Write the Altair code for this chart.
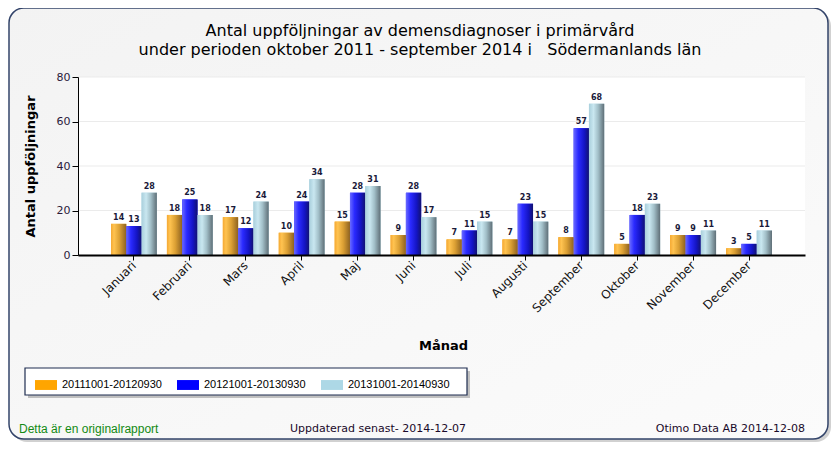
import altair as alt
import pandas as pd

months = ["Januari", "Februari", "Mars", "April", "Maj", "Juni", "Juli",
          "Augusti", "September", "Oktober", "November", "December"]
series_names = ["20111001-20120930", "20121001-20130930", "20131001-20140930"]
s1 = [14, 18, 17, 10, 15, 9, 7, 7, 8, 5, 9, 3]
s2 = [13, 25, 12, 24, 28, 28, 11, 23, 57, 18, 9, 5]
s3 = [28, 18, 24, 34, 31, 17, 15, 15, 68, 23, 11, 11]
y_ticks = [0, 20, 40, 60, 80]

title1 = "Antal uppföljningar av demensdiagnoser i primärvård"
title2 = "under perioden oktober 2011 - september 2014 i\u00a0\u00a0\u00a0Södermanlands län"
footer_left = "Detta är en originalrapport"
footer_mid = "Uppdaterad senast- 2014-12-07"
footer_right = "Otimo Data AB 2014-12-08"

rows = []
for name, vals in zip(series_names, [s1, s2, s3]):
    for m, v in zip(months, vals):
        rows.append({"month": m, "series": name, "value": v})
df = pd.DataFrame(rows)

W, H = 727, 178
solid = ["#FFA500", "#0000FF", "#ADD8E6"]

def grad(stops):
    return alt.LinearGradient(
        gradient="linear", x1=0, y1=0, x2=1, y2=0,
        stops=[alt.GradientStop(color=c, offset=o) for o, c in stops])

gradients = [
    grad([(0, "#f4a935"), (0.2, "#ffc350"), (0.55, "#dca034"), (1, "#8e6220")]),
    grad([(0, "#6a6aff"), (0.3, "#2a2aff"), (0.7, "#1414c4"), (1, "#121270")]),
    grad([(0, "#a9cfdc"), (0.3, "#c9e7f0"), (0.6, "#a2bfc8"), (1, "#5f6f77")]),
]

one = alt.Data(values=[{"k": 1}])

x_enc = alt.X("month:N", sort=months,
              scale=alt.Scale(domain=months, paddingInner=0.18, paddingOuter=0.59),
              axis=alt.Axis(title="Månad", labelAngle=315, labelAlign="right",
                            labelBaseline="middle", labelFontSize=12,
                            labelFont="DejaVu Sans", labelColor="#111",
                            labelPadding=3, tickSize=5, tickColor="#000",
                            domainColor="#000", domainWidth=2, grid=False,
                            titleFont="DejaVu Sans", titleFontSize=13,
                            titleFontWeight="bold", titleColor="#000",
                            titleX=365, titleY=90, titleBaseline="middle",
                            zindex=1))
xo_enc = alt.XOffset("series:N", scale=alt.Scale(domain=series_names, paddingInner=0, paddingOuter=0))
y_enc = alt.Y("value:Q",
              scale=alt.Scale(domain=[0, 80], nice=False),
              axis=alt.Axis(title="Antal uppföljningar", values=y_ticks,
                            labelFontSize=11, labelFont="DejaVu Sans",
                            labelColor="#2a1a3a", tickSize=6, tickColor="#000",
                            domainColor="#000", grid=False,
                            titleFont="DejaVu Sans", titleFontSize=13,
                            titleFontWeight="bold", titleColor="#000",
                            titleAngle=270, titleX=-41, titleY=89,
                            titleBaseline="bottom", titleAlign="center",
                            zindex=1))

# panel background + shadow
shadow = alt.Chart(one).mark_rect(cornerRadius=15, color="#9a9a9a", opacity=0.45).encode(
    x=alt.value(-66), x2=alt.value(753), y=alt.value(-66), y2=alt.value(365))
panel = alt.Chart(one).mark_rect(
    cornerRadius=15, stroke="#33446a", strokeWidth=1.5,
    fill=alt.LinearGradient(gradient="linear", x1=0, y1=0, x2=1, y2=1,
                            stops=[alt.GradientStop(color="#f3f3f3", offset=0),
                                   alt.GradientStop(color="#fbfbfb", offset=1)])
).encode(x=alt.value(-69), x2=alt.value(750), y=alt.value(-69), y2=alt.value(362))
plotbg = alt.Chart(one).mark_rect(color="#ffffff").encode(
    x=alt.value(0), x2=alt.value(W), y=alt.value(0), y2=alt.value(H))

grid = alt.Chart(pd.DataFrame({"t": y_ticks[1:]})).mark_rule(color="#ebebeb", strokeWidth=1).encode(
    y=alt.Y("t:Q", scale=alt.Scale(domain=[0, 80], nice=False)))

base_bars = alt.Chart(df).mark_bar().encode(
    x=x_enc, xOffset=xo_enc, y=y_enc,
    color=alt.Color("series:N", scale=alt.Scale(domain=series_names, range=solid),
                    legend=alt.Legend(title=None, orient="none", direction="horizontal",
                                      legendX=-43, legendY=297, columns=3,
                                      symbolType="M-1,-0.45H1V0.45H-1Z", symbolSize=484,
                                      symbolStrokeWidth=0, symbolOpacity=1,
                                      labelFont="Liberation Sans", labelFontSize=11,
                                      labelColor="#000", labelOffset=5,
                                      columnPadding=15, padding=0, zindex=1)))

grad_layers = []
for name, g in zip(series_names, gradients):
    grad_layers.append(
        alt.Chart(df).transform_filter(alt.datum.series == name)
        .mark_bar(fill=g, strokeWidth=0)
        .encode(x=alt.X("month:N", sort=months), xOffset="series:N", y="value:Q"))

labels = alt.Chart(df).mark_text(dy=-6, fontSize=8, fontWeight="bold",
                                 font="DejaVu Sans", color="#1a1a3a").encode(
    x=alt.X("month:N", sort=months), xOffset="series:N", y="value:Q", text="value:Q")

# legend box
leg_shadow = alt.Chart(one).mark_rect(color="#888888", opacity=0.5).encode(
    x=alt.value(-50), x2=alt.value(392), y=alt.value(294), y2=alt.value(321))
leg_box = alt.Chart(one).mark_rect(fill="#ffffff", stroke="#1f2d50", strokeWidth=1.2).encode(
    x=alt.value(-53), x2=alt.value(389), y=alt.value(291), y2=alt.value(318))

t1 = alt.Chart(one).mark_text(fontSize=16, font="DejaVu Sans", color="#000",
                              align="center", baseline="middle").encode(
    x=alt.value(342), y=alt.value(-46), text=alt.value(title1))
t2 = alt.Chart(one).mark_text(fontSize=16, font="DejaVu Sans", color="#000",
                              align="center", baseline="middle").encode(
    x=alt.value(342), y=alt.value(-27), text=alt.value(title2))
f1 = alt.Chart(one).mark_text(fontSize=12, font="Liberation Sans", color="#138a13",
                              align="left", baseline="middle").encode(
    x=alt.value(-59), y=alt.value(352), text=alt.value(footer_left))
f2 = alt.Chart(one).mark_text(fontSize=11, font="DejaVu Sans", color="#1a0a2a",
                              align="center", baseline="middle").encode(
    x=alt.value(300), y=alt.value(352), text=alt.value(footer_mid))
f3 = alt.Chart(one).mark_text(fontSize=11, font="DejaVu Sans", color="#1a0a2a",
                              align="right", baseline="middle").encode(
    x=alt.value(727), y=alt.value(352), text=alt.value(footer_right))

chart = alt.layer(
    shadow, panel, plotbg, grid, base_bars, *grad_layers, labels,
    leg_shadow, leg_box, t1, t2, f1, f2, f3
).properties(
    width=W, height=H,
    autosize=alt.AutoSizeParams(type="none"),
    padding={"left": 70, "top": 69, "right": 27, "bottom": 187},
).configure_view(stroke=None, fill=None).configure(background="#ffffff")

chart.save("out.html", embed_options={"renderer": "svg", "actions": False})
